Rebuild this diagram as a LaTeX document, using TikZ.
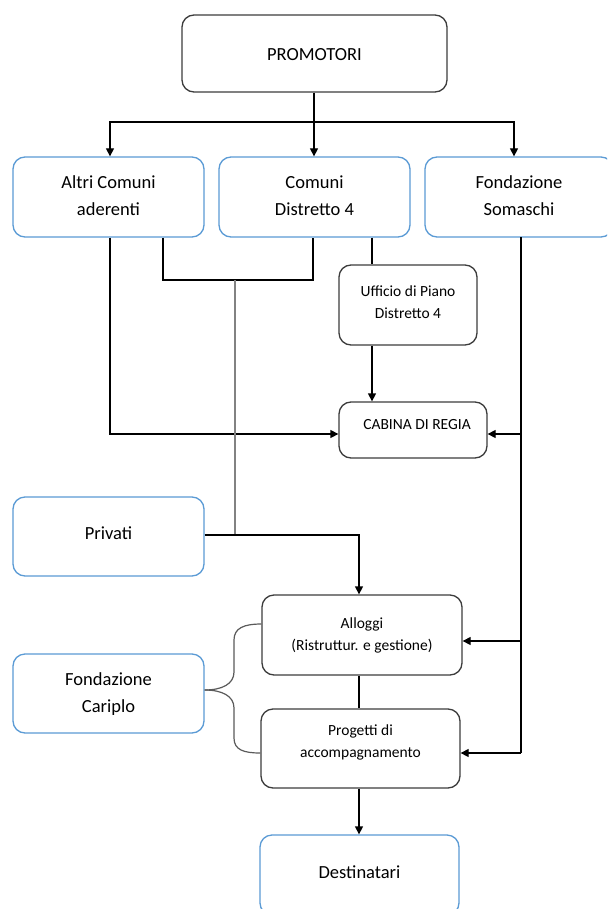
\documentclass[tikz,border=0pt]{standalone}
\usepackage{fontspec}
\setmainfont{Carlito}
\usetikzlibrary{arrows.meta,calc}
\definecolor{blueb}{RGB}{91,155,213}
\definecolor{darkb}{RGB}{60,60,60}
\definecolor{greyl}{RGB}{130,130,130}
\definecolor{greyb}{RGB}{90,90,90}
\tikzset{
  boxbase/.style={rectangle, rounded corners=12pt, line width=1.3pt, align=center, inner sep=0pt},
  bluebox/.style={boxbase, draw=blueb, font=\fontsize{18.5}{27}\selectfont},
  darkbox/.style={boxbase, draw=darkb, font=\fontsize{15.5}{22}\selectfont},
  topbox/.style={boxbase, draw=darkb, font=\fontsize{18.5}{27}\selectfont},
  bigtxt/.style={align=center, inner sep=0pt, font=\fontsize{18.5}{27}\selectfont},
  smalltxt/.style={align=center, inner sep=0pt, font=\fontsize{15.5}{22}\selectfont},
  conn/.style={line width=1.3pt, black},
  arr/.style={conn, -{Triangle[length=8pt,width=8pt]}},
  greyline/.style={line width=1.2pt, greyl},
  bracel/.style={line width=1.2pt, greyb}
}
\begin{document}
\begin{tikzpicture}[x=1pt,y=-1pt]
\useasboundingbox (0,0) rectangle (607,909);
\clip (0,0) rectangle (607,909);
\fill[white] (0,0) rectangle (607,909);

% boxes
\node[topbox, minimum width=265pt, minimum height=77pt] (prom) at (314.5,53.5) {};
\node[bluebox, minimum width=191pt, minimum height=80pt] (altri) at (108.5,197) {};
\node[bluebox, minimum width=191pt, minimum height=80pt] (comuni) at (314.5,197) {};
\node[bluebox, minimum width=188pt, minimum height=80pt] (soma) at (519,197) {};
\node[darkbox, minimum width=138pt, minimum height=80pt] (uff) at (408,305) {};
\node[darkbox, minimum width=148pt, minimum height=56pt] (cab) at (413,430) {};
\node[bluebox, minimum width=191pt, minimum height=79pt] (priv) at (108.5,536.5) {};
\node[bluebox, minimum width=191pt, minimum height=79pt] (cari) at (108.5,693.5) {};
\node[darkbox, minimum width=200pt, minimum height=80pt] (allo) at (362,635) {};
\node[darkbox, minimum width=199pt, minimum height=79pt] (prog) at (360.5,748.5) {};
\node[bluebox, minimum width=199pt, minimum height=80pt] (dest) at (359.5,875) {};

% texts
\node[bigtxt] (promt) at ($(prom.center)+(0,1)$) {PROMOTORI};
\node[bigtxt] (altrit) at ($(altri.center)+(0,-1.5)$) {Altri Comuni\\aderenti};
\node[bigtxt] (comunit) at ($(comuni.center)+(0,-1.5)$) {Comuni\\Distretto 4};
\node[bigtxt] (somat) at ($(soma.center)+(0,-1.5)$) {Fondazione\\Somaschi};
\node[smalltxt] (ufft) at ($(uff.center)+(0,-3)$) {Ufficio di Piano\\Distretto 4};
\node[smalltxt] (cabt) at ($(cab.center)+(4,-5)$) {CABINA DI REGIA};
\node[bigtxt] (privt) at ($(priv.center)+(0,-3.5)$) {Privati};
\node[bigtxt] (carit) at ($(cari.center)+(0,0.5)$) {Fondazione\\Cariplo};
\node[smalltxt] (allot) at (allo.center) {Alloggi\\(Ristruttur. e gestione)};
\node[smalltxt] (progt) at ($(prog.center)+(0,-6)$) {Progetti di\\accompagnamento};
\node[bigtxt] (destt) at ($(dest.center)+(0,-3)$) {Destinatari};

% junction coordinates
\coordinate (j1) at (314,122);
\coordinate (bl) at (163,280);
\coordinate (br) at (313,280);
\coordinate (gt) at (235,280);
\coordinate (pj) at (359,535);
\coordinate (sx) at (521,237);

% PROMOTORI to row 2
\draw[arr] (prom.south -| j1) -- (comuni.north -| j1);
\draw[arr] (j1) -| ($(altri.north)+(1.5,0)$);
\draw[arr] (j1) -| ($(soma.north)+(-5,0)$);

% Altri Comuni to cabina
\draw[arr] (altri.south -| 110,0) |- ($(cab.west)+(0,4)$);

% bracket between Altri and Comuni
\draw[conn] (altri.south -| bl) -- (bl) -- (br) -- (comuni.south -| br);
\draw[greyline] (gt) -- (gt |- pj);

% Comuni to Ufficio to Cabina
\draw[conn] (comuni.south -| 372,0) -- (uff.north -| 372,0);
\draw[arr] (uff.south -| 372,0) -- (cab.north -| 372,0);

% Fondazione Somaschi line
\draw[conn] (sx) -- (sx |- 0,753);
\draw[arr] (sx |- 0,434) -- ($(cab.east)+(0,4)$);
\draw[arr] (sx |- 0,641) -- (allo.east |- 0,641);
\draw[arr] (sx |- 0,753) -- (prog.east |- 0,753);

% Privati to Alloggi
\draw[arr] (priv.east |- pj) -- (pj) -- (allo.north -| pj);

% Alloggi to Progetti to Destinatari
\draw[conn] (allo.south -| pj) -- (prog.north -| pj);
\draw[arr] (prog.south -| pj) -- (dest.north -| pj);

% brace from Fondazione Cariplo
\draw[bracel] (cari.east |- 0,690) .. controls (222,690) and (234,684) .. (234,672)
  -- (234,640) .. controls (234,628) and (244,624) .. (allo.west |- 0,624);
\draw[bracel] (cari.east |- 0,690) .. controls (222,690) and (234,696) .. (234,708)
  -- (234,738) .. controls (234,750) and (244,753) .. (prog.west |- 0,753);
\end{tikzpicture}
\end{document}
